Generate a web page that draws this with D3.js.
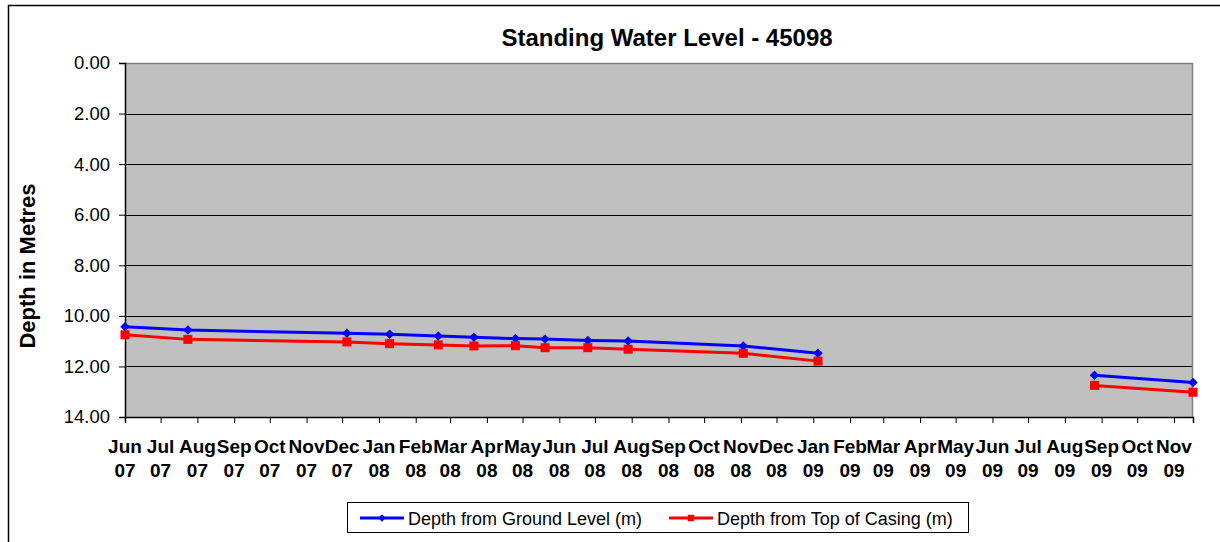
<!DOCTYPE html>
<html>
<head>
<meta charset="utf-8">
<script src="https://cdn.jsdelivr.net/npm/d3@7"></script>
<style>
  body { margin: 0; background: #fff; }
  text { font-family: "Liberation Sans", Arial, sans-serif; }
</style>
</head>
<body>
<div id="chart"></div>
<script>
// readings (null = no reading, breaks the line)
const dates = ["2007-06-01", "2007-07-24", "2007-12-05", "2008-01-10", "2008-02-20",
               "2008-03-21", "2008-04-25", "2008-05-20", "2008-06-25", "2008-07-29",
               "2008-11-03", "2009-01-05", "2009-05-01", "2009-08-26", "2009-11-17"];
const groundLevel = [10.43, 10.56, 10.69, 10.73, 10.80, 10.85, 10.90, 10.92, 10.97, 10.99,
                     11.19, 11.48, null, 12.35, 12.64];
const topOfCasing = [10.75, 10.93, 11.03, 11.10, 11.15, 11.19, 11.18, 11.26, 11.26, 11.32,
                     11.48, 11.79, null, 12.75, 13.02];
const yTicks = [0, 2, 4, 6, 8, 10, 12, 14];
const seriesNames = ["Depth from Ground Level (m)", "Depth from Top of Casing (m)"];

const W = 1220, H = 542;
const margin = {top: 63, right: 27, bottom: 125, left: 125};
const width = W - margin.left - margin.right;
const height = H - margin.top - margin.bottom;

const parse = d3.timeParse("%Y-%m-%d");
const series = [
  {name: seriesNames[0], color: "#0000ff", symbol: "diamond",
   values: dates.map((d, i) => ({date: parse(d), v: groundLevel[i]}))},
  {name: seriesNames[1], color: "#ff0000", symbol: "square",
   values: dates.map((d, i) => ({date: parse(d), v: topOfCasing[i]}))}
];

const svg0 = d3.select("#chart")
  .append("svg")
  .attr("width", W)
  .attr("height", H);

// chart area border (runs off the right and bottom edges)
svg0.append("rect")
  .attr("x", 8.5).attr("y", 5.5)
  .attr("width", W + 20).attr("height", H + 20)
  .attr("fill", "none")
  .attr("stroke", "#000")
  .attr("stroke-width", 1.5);

const svg = svg0.append("g")
  .attr("transform", `translate(${margin.left}, ${margin.top})`);

const x = d3.scaleTime()
  .domain([parse(dates[0]), parse(dates[dates.length - 1])])
  .range([0, width]);

const y = d3.scaleLinear()
  .domain([0, 14])
  .range([0, height]);

// plot background
svg.append("rect")
  .attr("width", width)
  .attr("height", height)
  .attr("fill", "#c0c0c0");

// gridlines
svg.append("g")
  .selectAll("line")
  .data(yTicks.slice(1, -1))
  .join("line")
    .attr("x1", 0).attr("x2", width)
    .attr("y1", d => Math.round(y(d)) + 0.5)
    .attr("y2", d => Math.round(y(d)) + 0.5)
    .attr("stroke", "#000")
    .attr("stroke-width", 1);

// top & right border of plot
svg.append("path")
  .attr("d", `M0,0.5H${width - 0.5}V${height}`)
  .attr("fill", "none")
  .attr("stroke", "#808080")
  .attr("stroke-width", 1.5);

// y axis
const yAxis = svg.append("g")
  .call(d3.axisLeft(y).tickValues(yTicks).tickFormat(d3.format(".2f")).tickSize(6).tickPadding(9));
yAxis.selectAll("text").style("font-size", "18.5px").attr("fill", "#000");
yAxis.selectAll("line").attr("stroke", "#000");
yAxis.select(".domain").attr("stroke", "#000").attr("stroke-width", 1.5);

// x axis
const xAxis = svg.append("g")
  .attr("transform", `translate(0, ${height})`)
  .call(d3.axisBottom(x).ticks(d3.timeMonth.every(1)).tickSize(6).tickFormat(""));
xAxis.selectAll("line").attr("stroke", "#000");
xAxis.select(".domain").attr("stroke", "#000").attr("stroke-width", 1.5);

const months = x.ticks(d3.timeMonth.every(1));
const labels = svg.append("g")
  .attr("transform", `translate(0, ${height})`)
  .selectAll("text")
  .data(months)
  .join("text")
    .attr("x", d => x(d))
    .attr("text-anchor", "middle")
    .style("font-size", "19px")
    .style("font-weight", "bold");
labels.append("tspan").attr("x", d => x(d)).attr("y", 36).text(d3.timeFormat("%b"));
labels.append("tspan").attr("x", d => x(d)).attr("y", 60).text(d3.timeFormat("%y"));

// lines
const line = d3.line()
  .defined(d => d.v != null)
  .x(d => x(d.date))
  .y(d => y(d.v));

const symbolFor = (s, big) => s === "diamond"
  ? d3.symbol(d3.symbolSquare, big ? 45 : 28)
  : d3.symbol(d3.symbolSquare, big ? 81 : 42);

series.forEach(s => {
  svg.append("path")
    .datum(s.values)
    .attr("d", line)
    .attr("fill", "none")
    .attr("stroke", s.color)
    .attr("stroke-width", 3);

  svg.append("g")
    .selectAll("path")
    .data(s.values.filter(d => d.v != null))
    .join("path")
      .attr("d", symbolFor(s.symbol, true))
      .attr("transform", d => `translate(${x(d.date)}, ${y(d.v)})` + (s.symbol === "diamond" ? " rotate(45)" : ""))
      .attr("fill", s.color);
});

// title
svg0.append("text")
  .attr("x", 667)
  .attr("y", 46)
  .attr("text-anchor", "middle")
  .style("font-size", "24px")
  .style("font-weight", "bold")
  .text("Standing Water Level - 45098");

// y axis title
svg0.append("text")
  .attr("transform", "translate(35, 266) rotate(-90)")
  .attr("text-anchor", "middle")
  .style("font-size", "22px")
  .style("font-weight", "bold")
  .text("Depth in Metres");

// legend
const legend = svg0.append("g");
legend.append("rect")
  .attr("x", 347.5).attr("y", 502.5)
  .attr("width", 621).attr("height", 30)
  .attr("fill", "#fff")
  .attr("stroke", "#000")
  .attr("stroke-width", 1);

const legendX = [360, 669];
series.forEach((s, i) => {
  const g = legend.append("g").attr("transform", `translate(${legendX[i]}, 518)`);
  g.append("line")
    .attr("x1", 0).attr("x2", 44)
    .attr("stroke", s.color)
    .attr("stroke-width", 3);
  g.append("path")
    .attr("d", symbolFor(s.symbol, false))
    .attr("transform", "translate(22, 0)" + (s.symbol === "diamond" ? " rotate(45)" : ""))
    .attr("fill", s.color);
  g.append("text")
    .attr("x", 48)
    .attr("y", 6.5)
    .style("font-size", "18px")
    .text(s.name);
});
</script>
</body>
</html>
